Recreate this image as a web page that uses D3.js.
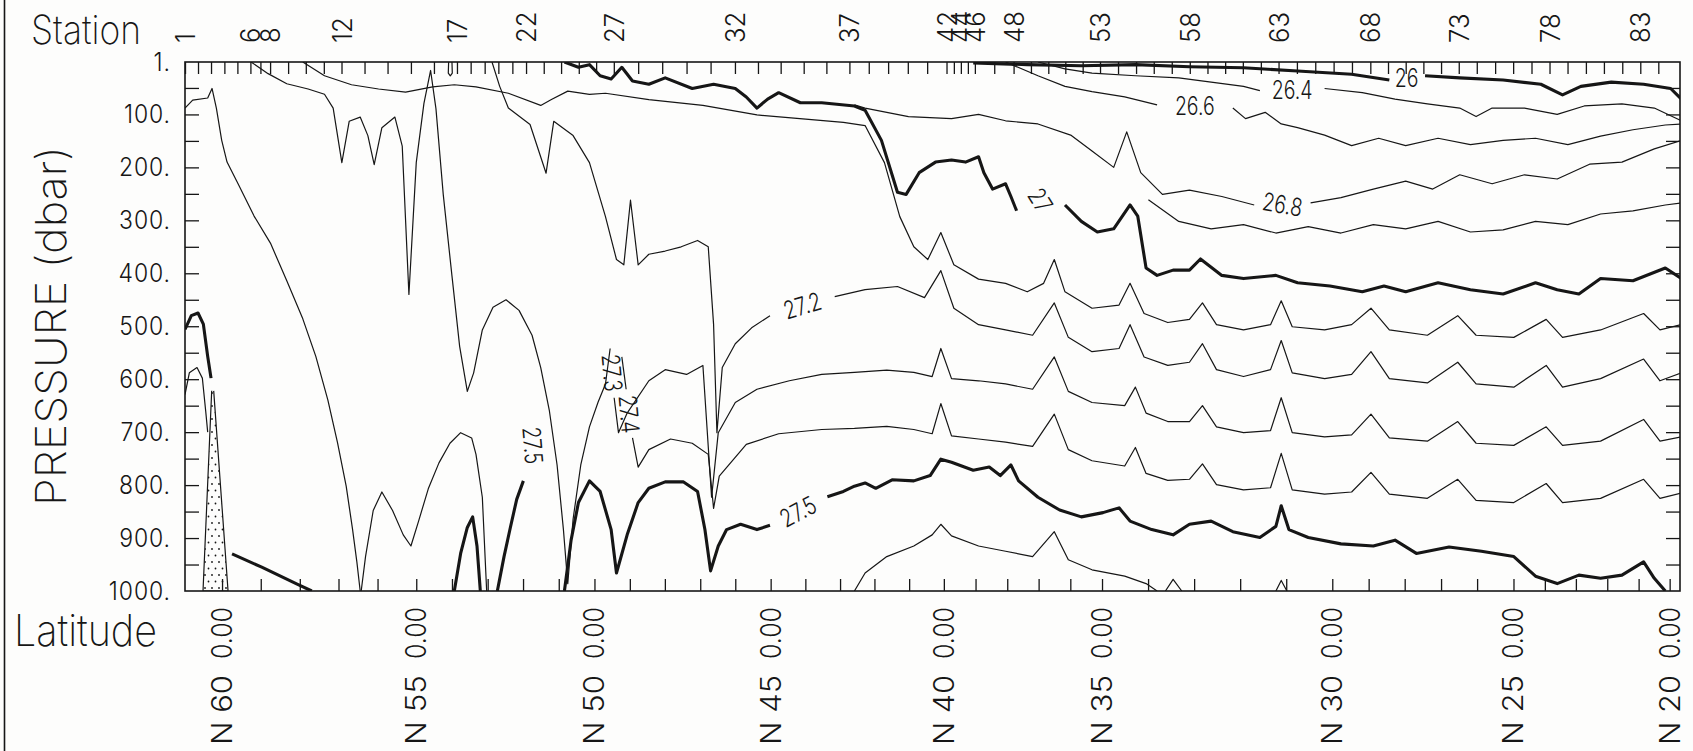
<!DOCTYPE html>
<html><head><meta charset="utf-8">
<script src="https://cdn.jsdelivr.net/npm/d3@7"></script>
<style>body{margin:0;background:#fff}svg{display:block}</style>
</head><body>
<svg id="chart" width="1693" height="751"></svg>
<script>
// ================= DATA =================
// station number labels and along-track distance (km) of every station
const stationLabels = [1,6,8,12,17,22,27,32,37,42,44,46,48,53,58,63,68,73,78,83];
const stationLabelKm = [0,196,255,469,815,1022,1285,1648,1991,2282,2325,2367,2483,2742,3011,3277,3552,3817,4089,4361];
const stationKm = [0,39,78,118,157,196,226,255,309,362,416,469,538,607,677,746,815,856,898,939,981,1022,
  1075,1127,1180,1232,1285,1358,1430,1503,1575,1648,1717,1785,1854,1922,1991,2049,2107,2166,2224,2282,
  2304,2325,2346,2367,2425,2483,2535,2587,2638,2690,2742,2796,2850,2903,2957,3011,3064,3117,3170,3224,
  3277,3332,3387,3442,3497,3552,3605,3658,3711,3764,3817,3871,3926,3980,4035,4089,4143,4198,4252,4307,4361,4415];
const pressureTicks = [1,100,200,300,400,500,600,700,800,900,1000];
const latLabels = [60,55,50,45,40,35,30,25,20];
const latKm = [111,693,1227,1755,2274,2748,3438,3981,4449];
const latTickKm = [111,227,344,460,577,693,800,907,1013,1120,1227,1333,1438,1544,1649,1755,1859,1963,2066,2170,
  2274,2369,2464,2558,2653,2748,2886,3024,3162,3300,3438,3547,3655,3764,3872,3981,4075,4168,4262,4356,4449];

// isopycnal contour lines, points are [km, dbar]
const s260a = [[2362,3],[2524,6],[2686,8],[2848,6],[3010,10],[3172,12],[3334,18],[3496,24],[3609,35]];
const s260b = [[3716,27],[3820,31],[3950,35],[4063,43],[4128,63],[4183,47],[4274,39],[4371,43],[4452,51],[4484,71]];
const s264a = [[2556,1],[2637,14],[2718,22],[2848,27],[2978,31],[3075,39],[3172,47],[3221,55]];
const s264b = [[3415,51],[3528,59],[3626,71],[3723,80],[3820,88],[3869,104],[3917,88],[4014,88],[4112,100],[4193,84],[4306,80],[4403,88],[4484,112]];
const s266a = [[2459,1],[2556,27],[2637,47],[2718,57],[2816,67],[2913,82]];
const s266b = [[3140,88],[3178,108],[3237,96],[3285,118],[3334,125],[3415,139],[3496,159],[3577,145],[3658,159],[3755,145],[3852,157],[3950,149],[4047,145],[4144,157],[4242,141],[4339,129],[4436,120],[4484,118]];
const s268a = [[2006,82],[2038,88],[2168,104],[2297,108],[2378,100],[2459,112],[2556,118],[2654,139],[2718,169],[2783,200],[2822,133],[2864,210],[2929,251],[3010,243],[3107,255],[3204,271]];
const s268b = [[3373,267],[3464,257],[3561,241],[3658,226],[3739,241],[3820,214],[3917,231],[4014,214],[4112,222],[4209,194],[4306,190],[4403,165],[4484,149]];
const s269 = [[2887,261],[2978,302],[3075,316],[3172,308],[3269,324],[3366,312],[3464,324],[3561,308],[3658,316],[3755,302],[3852,322],[3950,318],[4047,302],[4144,308],[4242,288],[4339,282],[4436,271],[4484,267]];
const s270a = [[1137,1],[1179,11],[1212,6],[1244,27],[1277,33],[1309,11],[1341,37],[1390,43],[1439,31],[1520,51],[1584,43],[1649,51],[1682,67],[1714,88],[1746,71],[1779,59],[1844,78],[1908,78],[2006,84],[2038,92],[2087,149],[2135,247],[2161,251],[2200,210],[2249,190],[2297,186],[2339,190],[2378,180],[2394,210],[2420,241],[2459,231],[2475,255],[2492,282]];
const s270b = [[2637,271],[2686,302],[2734,322],[2783,316],[2832,271],[2855,292],[2880,390],[2913,404],[2961,394],[3010,394],[3043,373],[3107,404],[3172,410],[3269,404],[3334,418],[3431,424],[3528,435],[3593,424],[3658,435],[3755,418],[3852,431],[3950,439],[4047,418],[4112,431],[4177,439],[4242,410],[4339,414],[4436,390],[4484,410]];
const s271 = [[353,1],[418,27],[499,44],[580,52],[661,58],[742,48],[807,44],[872,48],[969,60],[1066,83],[1098,72],[1147,56],[1212,62],[1260,60],[1390,72],[1552,83],[1714,101],[1860,109],[1973,115],[2038,121],[2096,191],[2142,293],[2184,350],[2226,374],[2265,323],[2304,384],[2378,411],[2459,419],[2524,435],[2573,419],[2605,374],[2637,435],[2718,466],[2799,460],[2832,419],[2874,476],[2945,493],[3010,487],[3049,456],[3091,497],[3172,507],[3253,497],[3285,452],[3318,501],[3415,507],[3496,497],[3554,466],[3609,507],[3723,517],[3814,480],[3869,517],[3982,521],[4079,487],[4128,521],[4242,507],[4371,476],[4420,507],[4484,497]];
const s272a = [[920,1],[943,47],[969,88],[1034,119],[1082,211],[1105,113],[1163,140],[1212,191],[1260,293],[1293,374],[1315,384],[1335,262],[1358,384],[1390,364],[1439,358],[1487,350],[1536,338],[1568,350],[1584,497],[1594,701],[1610,578],[1649,533],[1698,503],[1753,480]];
const s272b = [[1947,444],[2038,431],[2135,425],[2216,446],[2265,395],[2304,466],[2378,497],[2459,507],[2540,517],[2605,456],[2647,521],[2718,548],[2799,542],[2832,497],[2874,558],[2945,574],[3010,568],[3049,533],[3091,582],[3172,595],[3253,582],[3285,527],[3318,588],[3415,599],[3496,591],[3554,548],[3609,599],[3723,607],[3814,568],[3869,609],[3982,615],[4079,574],[4128,615],[4242,599],[4371,562],[4420,603],[4484,588]];
const s273a = [[198,1],[249,23],[305,42],[369,52],[418,62],[444,88],[470,191],[492,113],[525,105],[548,140],[567,195],[590,125],[629,105],[651,160],[671,440],[693,191],[716,79],[736,17],[752,89],[774,252],[800,405],[823,538],[846,623],[865,588],[891,507],[923,464],[962,450],[1001,470],[1040,517],[1066,578],[1092,660],[1115,762],[1134,884],[1147,986],[1163,864],[1186,762],[1212,690],[1238,643],[1260,609],[1274,542]];
const s273b = [[1286,635],[1299,701],[1325,664],[1390,603],[1439,582],[1503,591],[1552,574],[1578,823],[1598,701],[1649,644],[1714,619],[1811,603],[1908,591],[2006,587],[2103,583],[2184,587],[2239,595],[2265,542],[2297,599],[2378,603],[2459,609],[2540,619],[2605,558],[2647,623],[2718,644],[2816,650],[2848,615],[2880,664],[2945,680],[3010,680],[3049,650],[3091,690],[3172,701],[3253,697],[3285,635],[3318,701],[3415,709],[3496,705],[3554,666],[3609,711],[3723,717],[3814,680],[3869,721],[3982,725],[4079,690],[4128,725],[4242,717],[4371,676],[4420,717],[4484,709]];
const s274a = [[1309,558],[1322,619]];
const s274b = [[1341,711],[1358,766],[1390,733],[1455,713],[1520,721],[1568,742],[1584,844],[1601,783],[1682,723],[1779,703],[1908,695],[2006,693],[2103,689],[2184,695],[2239,703],[2265,646],[2297,707],[2378,713],[2459,719],[2540,727],[2605,666],[2647,733],[2718,754],[2816,764],[2848,729],[2880,778],[2945,791],[3010,789],[3049,760],[3091,799],[3172,809],[3253,805],[3285,740],[3318,809],[3415,817],[3496,813],[3554,776],[3609,817],[3723,825],[3814,789],[3869,829],[3982,833],[4079,797],[4128,833],[4242,825],[4371,789],[4420,825],[4484,815]];
const s275a = [[1925,822],[1973,812],[2006,802],[2038,796],[2070,806],[2119,790],[2184,792],[2233,782],[2265,751],[2297,757],[2362,772],[2410,766],[2443,782],[2475,762],[2498,792],[2556,823],[2621,847],[2686,860],[2751,852],[2799,843],[2832,868],[2897,884],[2961,894],[3010,874],[3075,868],[3140,888],[3221,899],[3269,878],[3285,839],[3308,884],[3366,899],[3464,911],[3561,915],[3626,904],[3690,929],[3788,917],[3885,925],[3982,935],[4047,972],[4112,986],[4177,970],[4242,976],[4306,970],[4371,945],[4403,976],[4436,1000]];
const s275b = [[1137,1000],[1157,904],[1179,833],[1212,792],[1244,812],[1277,884],[1293,966],[1325,894],[1358,833],[1390,806],[1439,794],[1494,794],[1536,812],[1558,884],[1575,962],[1598,915],[1623,884],[1665,874],[1714,884],[1753,876]];
const s275c = [[936,1000],[956,935],[975,880],[994,827],[1014,792]];
const s275d = [[807,1000],[826,929],[846,880],[862,860],[875,915],[885,1000]];
const s275e = [[141,930],[230,955],[336,987],[380,1000]];
const s275f = [[0,506],[19,480],[39,475],[55,496],[68,557],[78,598]];
const s276a = [[2006,1000],[2038,966],[2103,935],[2184,915],[2239,894],[2265,874],[2297,896],[2378,915],[2459,925],[2540,935],[2605,888],[2647,941],[2718,960],[2816,972],[2880,986],[2913,1000]];
const s276b = [[2938,1000],[2961,978],[2987,1000]];
const s276c = [[3269,1000],[3285,980],[3302,1000]];
const sDiag = [[0,88],[23,73],[68,69],[81,51],[94,88],[110,149],[126,190],[159,231],[207,292],[256,343],[305,414],[353,486],[392,557],[428,639],[457,720],[483,802],[502,883],[515,945],[525,1000]];
const sLow = [[528,1000],[541,935],[564,848],[590,813],[622,848],[654,894],[677,915],[700,868],[729,807],[761,758],[794,721],[826,701],[859,711],[872,742],[891,823],[904,1000]];
const sEdge = [[0,629],[13,588],[36,578],[52,598],[62,660],[68,700]];
const sLoop = [[790,1],[789,22],[795,27],[801,22],[800,1]];
const wedge = [[80,622],[54,1000],[129,1000],[86,622]];

const thinLines = [s264a,s264b,s266a,s266b,s268a,s268b,s269,s271,s272a,s272b,s273a,s273b,s274a,s274b,s276a,s276b,s276c,sDiag,sLow,sEdge,sLoop];
const thickLines = [s260a,s260b,s270a,s270b,s275a,s275b,s275c,s275d,s275e,s275f];

// contour labels
const labelText = ["26","26.4","26.6","26.8","27","27.2","27.3","27.4","27.5","27.5"];
const labelKm   = [3661,3318,3026,3289,2563,1850,1280,1331,1042,1837];
const labelDbar = [31,54,85,270,262,461,588,666,725,850];
const labelAngle = [0,0,0,10,58,-17,85,85,85,-28];

// ================= DRAWING =================
const svg = d3.select("#chart");
const W = 1693, H = 751;
const x = d3.scaleLinear().domain([0, 4480]).range([185, 1680]);
const y = d3.scaleLinear().domain([1, 1000]).range([62, 591]);
const FONT = "Inter, 'DejaVu Sans', sans-serif";
const ink = "#161616";

svg.append("rect").attr("width", W).attr("height", H).attr("fill", "#fdfdfc");
svg.append("line").attr("x1", 4.5).attr("x2", 4.5).attr("y1", 0).attr("y2", H).attr("stroke", ink).attr("stroke-width", 1.6);

const defs = svg.append("defs");
const pat = defs.append("pattern").attr("id", "dots").attr("patternUnits", "userSpaceOnUse").attr("width", 7).attr("height", 13);
pat.append("circle").attr("cx", 2).attr("cy", 3).attr("r", 0.9).attr("fill", ink);
pat.append("circle").attr("cx", 5.5).attr("cy", 9.5).attr("r", 0.9).attr("fill", ink);
defs.append("clipPath").attr("id", "plotClip").append("rect").attr("x", 185).attr("y", 62).attr("width", 1495).attr("height", 529);

const line = d3.line().x(d => x(d[0])).y(d => y(d[1]));
const plot = svg.append("g").attr("clip-path", "url(#plotClip)");
plot.append("path").datum(wedge).attr("d", line).attr("fill", "url(#dots)").attr("stroke", ink).attr("stroke-width", 1.2);
plot.selectAll(".thin").data(thinLines).join("path").attr("class", "thin").attr("d", line)
  .attr("fill", "none").attr("stroke", ink).attr("stroke-width", 1.2).attr("stroke-linejoin", "round");
plot.selectAll(".thick").data(thickLines).join("path").attr("class", "thick").attr("d", line)
  .attr("fill", "none").attr("stroke", ink).attr("stroke-width", 3.1).attr("stroke-linejoin", "round");

// contour labels
svg.append("g").selectAll("text").data(labelText).join("text")
  .attr("transform", (d, i) => `translate(${x(labelKm[i])},${y(labelDbar[i])}) rotate(${labelAngle[i]}) scale(0.78,1)`)
  .attr("text-anchor", "middle").attr("dy", "0.36em")
  .attr("font-family", FONT).attr("font-weight", 300).attr("font-size", 25).attr("fill", ink)
  .text(d => d);

// frame
svg.append("rect").attr("x", 185).attr("y", 62).attr("width", 1495).attr("height", 529)
  .attr("fill", "none").attr("stroke", ink).attr("stroke-width", 1.6);

const styleTicks = g => { g.select(".domain").remove(); g.selectAll("line").attr("stroke", ink).attr("stroke-width", 1.3); };
const pMinor = d3.range(50, 1000, 50);
svg.append("g").attr("transform", "translate(185,0)").call(d3.axisRight(y).tickValues(pMinor).tickSize(14).tickFormat("")).call(styleTicks);
svg.append("g").attr("transform", "translate(1680,0)").call(d3.axisLeft(y).tickValues(pMinor).tickSize(14).tickFormat("")).call(styleTicks);
svg.append("g").attr("transform", "translate(0,62)").call(d3.axisBottom(x).tickValues(stationKm).tickSize(12).tickFormat("")).call(styleTicks);
svg.append("g").attr("transform", "translate(0,591)").call(d3.axisTop(x).tickValues(latTickKm).tickSize(12).tickFormat("")).call(styleTicks);

// pressure labels
svg.append("g").selectAll("text").data(pressureTicks).join("text")
  .attr("transform", d => `translate(171,${y(d)}) scale(0.92,1)`).attr("dy", "0.36em")
  .attr("text-anchor", "end").attr("font-family", FONT).attr("font-weight", 300)
  .attr("font-size", 25).attr("letter-spacing", 1).attr("fill", ink)
  .text(d => d + ".");

// station labels
svg.append("g").selectAll("text").data(stationLabels).join("text")
  .attr("transform", (d, i) => `translate(${x(stationLabelKm[i]) + 10},43) rotate(-90) scale(0.95,1)`)
  .attr("text-anchor", "start").attr("font-family", FONT).attr("font-weight", 300)
  .attr("font-size", 27).attr("fill", ink).text(d => d);

// latitude labels
const latG = svg.append("g");
latG.selectAll(".n").data(latLabels).join("text")
  .attr("transform", (d, i) => `translate(${x(latKm[i]) + 10},745) rotate(-90)`)
  .attr("text-anchor", "start").attr("font-family", FONT).attr("font-weight", 300)
  .attr("font-size", 28).attr("textLength", 70).attr("lengthAdjust", "spacingAndGlyphs")
  .attr("fill", ink).text(d => "N " + d);
latG.selectAll(".m").data(latLabels).join("text")
  .attr("transform", (d, i) => `translate(${x(latKm[i]) + 10},659) rotate(-90)`)
  .attr("text-anchor", "start").attr("font-family", FONT).attr("font-weight", 300)
  .attr("font-size", 28).attr("textLength", 52).attr("lengthAdjust", "spacingAndGlyphs")
  .attr("fill", ink).text("0.00");

// titles
svg.append("text").attr("x", 31).attr("y", 44).attr("textLength", 110).attr("lengthAdjust", "spacingAndGlyphs")
  .attr("font-family", FONT).attr("font-weight", 200).attr("font-size", 40).attr("fill", ink).text("Station");
svg.append("text").attr("x", 14).attr("y", 646).attr("textLength", 143).attr("lengthAdjust", "spacingAndGlyphs")
  .attr("font-family", FONT).attr("font-weight", 200).attr("font-size", 44).attr("fill", ink).text("Latitude");
svg.append("text").attr("transform", "translate(66,326) rotate(-90)").attr("text-anchor", "middle")
  .attr("textLength", 360).attr("lengthAdjust", "spacingAndGlyphs")
  .attr("font-family", FONT).attr("font-weight", 200).attr("font-size", 42).attr("fill", ink).text("PRESSURE (dbar)");
</script>
</body></html>
